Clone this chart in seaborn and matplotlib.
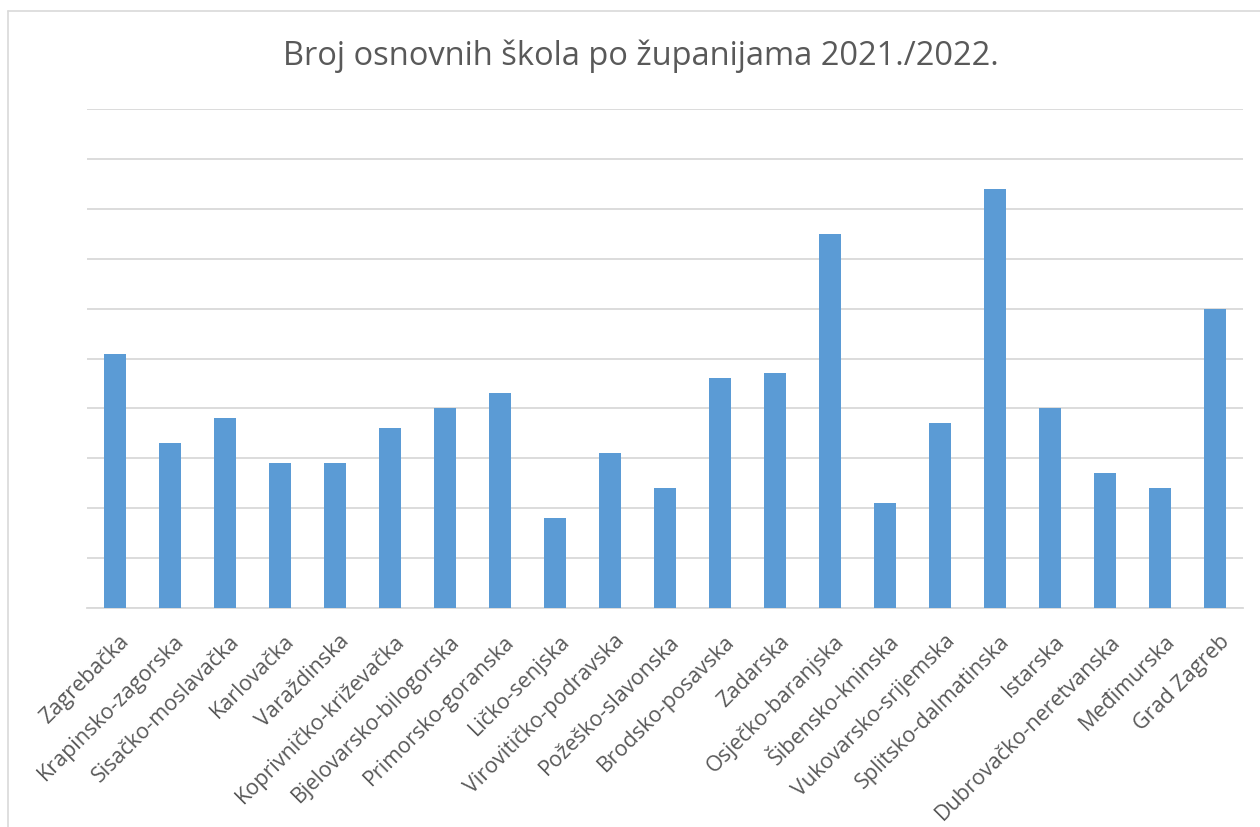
import matplotlib
matplotlib.use("Agg")
import matplotlib.pyplot as plt
import matplotlib.transforms as mtransforms
import seaborn as sns
import pandas as pd
from matplotlib.lines import Line2D

counties = ["Zagrebačka", "Krapinsko-zagorska", "Sisačko-moslavačka", "Karlovačka",
            "Varaždinska", "Koprivničko-križevačka", "Bjelovarsko-bilogorska",
            "Primorsko-goranska", "Ličko-senjska", "Virovitičko-podravska",
            "Požeško-slavonska", "Brodsko-posavska", "Zadarska", "Osječko-baranjska",
            "Šibensko-kninska", "Vukovarsko-srijemska", "Splitsko-dalmatinska",
            "Istarska", "Dubrovačko-neretvanska", "Međimurska", "Grad Zagreb"]
schools = [51, 33, 38, 29, 29, 36, 40, 43, 18, 31, 24, 46, 47, 75, 21, 37, 84, 40, 27, 24, 60]
title = "Broj osnovnih škola po županijama 2021./2022."

sns.set_theme(style="white")
plt.rcParams['font.family'] = ['Open Sans', 'DejaVu Sans']

df = pd.DataFrame({"county": counties, "schools": schools})

W, H = 1260, 828
fig = plt.figure(figsize=(W / 100, H / 100), dpi=100)
ax = fig.add_axes([87 / W, (H - 609) / H, (1243 - 87) / W, (609 - 110) / H])

sns.barplot(data=df, x="county", y="schools", color="#5B9BD5", saturation=1,
            width=0.4, ax=ax, edgecolor="none", zorder=3)

ax.set_ylim(0, 100)
ax.set_xlim(-0.5, len(counties) - 0.5)
ax.set_yticks(range(0, 101, 10))
ax.yaxis.grid(True, color="#D9D9D9", linewidth=1.3, zorder=0)
ax.set_yticklabels([])
ax.tick_params(axis="y", length=0)
ax.tick_params(axis="x", length=0, pad=0)
for s in ["top", "right", "left"]:
    ax.spines[s].set_visible(False)
ax.spines["bottom"].set_color("#D9D9D9")
ax.spines["bottom"].set_linewidth(1.3)
ax.set_xlabel("")
ax.set_ylabel("")
offset = mtransforms.ScaledTranslation(4 / 100, -22 / 100, fig.dpi_scale_trans)
for lbl in ax.get_xticklabels():
    lbl.set_rotation(45)
    lbl.set_ha("right")
    lbl.set_va("top")
    lbl.set_rotation_mode("anchor")
    lbl.set_fontsize(15.5)
    lbl.set_color("#595959")
    lbl.set_transform(lbl.get_transform() + offset)

fig.text(641 / W, 1 - 56 / H, title, ha="center", va="center", fontsize=23.5, color="#595959")

# chart border
fig.add_artist(Line2D([8 / W, 8 / W], [0, 1 - 12 / H], color="#D9D9D9", linewidth=1.2,
                      transform=fig.transFigure))
fig.add_artist(Line2D([8 / W, 1], [1 - 12 / H, 1 - 12 / H], color="#D9D9D9", linewidth=1.2,
                      transform=fig.transFigure))

fig.savefig("out.png", dpi=100)
